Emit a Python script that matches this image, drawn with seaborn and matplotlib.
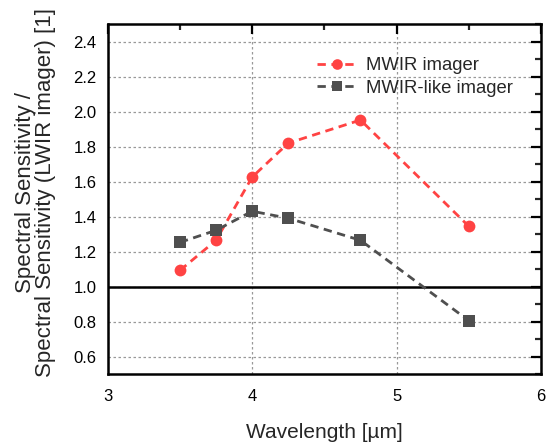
import matplotlib
matplotlib.use("Agg")
import matplotlib.pyplot as plt
from matplotlib.ticker import MultipleLocator
import seaborn as sns
import pandas as pd

wavelength = [3.5, 3.75, 4.0, 4.25, 4.75, 5.5]
mwir = [1.093, 1.265, 1.626, 1.82, 1.952, 1.345]
mwir_like = [1.253, 1.322, 1.431, 1.391, 1.265, 0.806]
series_names = ["MWIR imager", "MWIR-like imager"]

df = pd.DataFrame({
    "Wavelength": wavelength * 2,
    "Value": mwir + mwir_like,
    "Series": [series_names[0]] * len(wavelength) + [series_names[1]] * len(wavelength),
})

sns.set_theme(style="white")
plt.rcParams['font.family'] = ['Liberation Sans', 'DejaVu Sans']

fig = plt.figure(figsize=(5.47, 4.46), dpi=100)
ax = fig.add_axes([0.197, 0.161, 0.792, 0.785])

palette = {series_names[0]: "#FF4343", series_names[1]: "#4F4F4F"}
markers = {series_names[0]: "o", series_names[1]: "s"}
sns.lineplot(data=df, x="Wavelength", y="Value", hue="Series", style="Series",
             palette=palette, markers=markers, dashes={n: (3, 2) for n in series_names},
             markersize=8.5, markeredgewidth=0, linewidth=2, ax=ax)

ax.set_xlim(3, 6)
ax.set_ylim(0.5, 2.5)
ax.xaxis.set_major_locator(MultipleLocator(1))
ax.xaxis.set_minor_locator(MultipleLocator(0.5))
ax.yaxis.set_minor_locator(MultipleLocator(0.1))
ax.set_yticks([0.6, 0.8, 1.0, 1.2, 1.4, 1.6, 1.8, 2.0, 2.2, 2.4])
ax.yaxis.set_major_formatter(matplotlib.ticker.FormatStrFormatter('%.1f'))

ax.grid(True, which="major", linestyle=(0, (2, 2)), color="#999999", linewidth=0.9)
ax.axhline(1.0, color="black", linewidth=1.8, zorder=1.5)

ax.tick_params(which="major", direction="in", length=7, width=1.6, top=True, right=True,
               labelsize=12, colors="black")
ax.tick_params(axis="x", which="major", pad=11)
ax.tick_params(axis="y", which="major", pad=8)
ax.tick_params(which="minor", direction="in", length=4, width=1.6, top=True, right=True)
for s in ax.spines.values():
    s.set_linewidth(1.8)
    s.set_color("black")

ax.set_xlabel("Wavelength [µm]", fontsize=15, labelpad=13)
ax.set_ylabel("Spectral Sensitivity /\nSpectral Sensitivity (LWIR imager) [1]", fontsize=16,
              linespacing=0.95)
ax.yaxis.set_label_coords(-0.12, 0.52)

leg = ax.legend(loc="upper left", bbox_to_anchor=(0.483, 0.905), frameon=False, fontsize=13.3,
                handlelength=2.2, labelspacing=0.3, handletextpad=0.45, markerscale=0.9,
                borderpad=0, borderaxespad=0)

fig.savefig("out.png", dpi=100)
